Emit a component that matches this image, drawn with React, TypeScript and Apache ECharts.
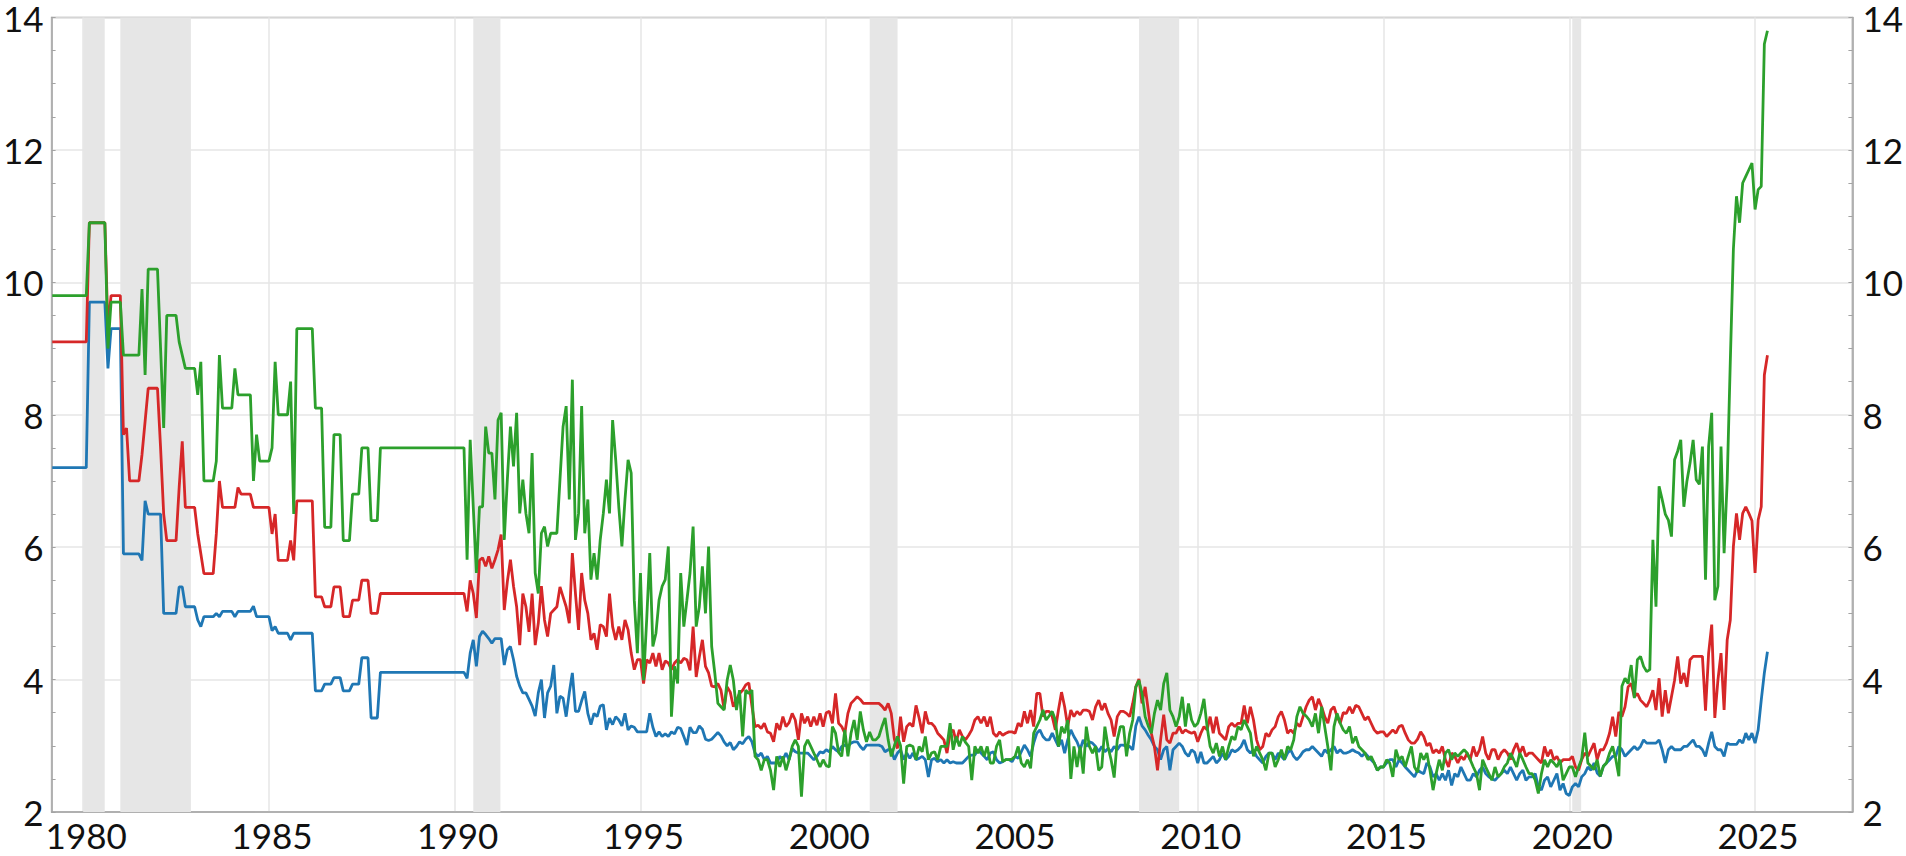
import React, { useEffect, useRef } from "react";
import * as echarts from "echarts";

// Monthly observations; the first value in each list is March 1979.
const FIRST_YEAR = 1979;
const FIRST_MONTH = 3;

// blue line
const seriesBlue = [
  7.2, 7.2, 7.2, 7.2, 7.2, 7.2, 7.2, 7.2, 7.2, 7.2, // 1979 Mar-Dec
  7.2, 7.2, 9.7, 9.7, 9.7, 9.7, 9.7, 9.7, 8.7, 9.3, 9.3, 9.3, // 1980
  9.3, 5.9, 5.9, 5.9, 5.9, 5.9, 5.9, 5.8, 6.7, 6.5, 6.5, 6.5, // 1981
  6.5, 6.5, 5.0, 5.0, 5.0, 5.0, 5.0, 5.4, 5.4, 5.1, 5.1, 5.1, // 1982
  5.1, 4.9, 4.8, 4.95, 4.95, 4.95, 4.95, 5.0, 4.95, 5.03, 5.03, 5.03, // 1983
  5.03, 4.95, 5.03, 5.03, 5.03, 5.03, 5.03, 5.11, 4.95, 4.95, 4.95, 4.95, // 1984
  4.95, 4.74, 4.8, 4.7, 4.7, 4.7, 4.7, 4.6, 4.7, 4.7, 4.7, 4.7, // 1985
  4.7, 4.7, 4.7, 3.83, 3.83, 3.83, 3.93, 3.93, 3.93, 4.03, 4.03, 4.03, // 1986
  3.83, 3.83, 3.83, 3.93, 3.93, 3.93, 4.33, 4.33, 4.33, 3.42, 3.42, 3.42, // 1987
  4.11, 4.11, 4.11, 4.11, 4.11, 4.11, 4.11, 4.11, 4.11, 4.11, 4.11, 4.11, // 1988
  4.11, 4.11, 4.11, 4.11, 4.11, 4.11, 4.11, 4.11, 4.11, 4.11, 4.11, 4.11, // 1989
  4.11, 4.11, 4.11, 4.11, 4.02, 4.4, 4.6, 4.2, 4.65, 4.73, 4.68, 4.62, // 1990
  4.55, 4.62, 4.62, 4.62, 4.22, 4.45, 4.5, 4.3, 4.05, 3.9, 3.8, 3.8, // 1991
  3.7, 3.6, 3.45, 3.8, 4.0, 3.42, 3.8, 3.9, 4.22, 3.49, 3.75, 3.72, // 1992
  3.44, 3.8, 4.1, 3.52, 3.52, 3.68, 3.82, 3.49, 3.32, 3.49, 3.44, 3.6, // 1993
  3.62, 3.24, 3.42, 3.32, 3.44, 3.39, 3.3, 3.49, 3.24, 3.3, 3.28, 3.21, // 1994
  3.21, 3.21, 3.21, 3.49, 3.28, 3.14, 3.21, 3.14, 3.18, 3.14, 3.21, 3.18, // 1995
  3.28, 3.26, 3.14, 3.01, 3.28, 3.2, 3.2, 3.3, 3.25, 3.1, 3.08, 3.1, // 1996
  3.15, 3.2, 3.15, 3.06, 3.0, 3.05, 2.94, 2.99, 3.06, 3.03, 3.1, 3.14, // 1997
  3.06, 2.89, 2.84, 2.89, 2.79, 2.84, 2.74, 2.74, 2.74, 2.84, 2.79, 2.89, // 1998
  2.79, 2.96, 2.91, 2.89, 2.89, 2.89, 2.89, 2.84, 2.79, 2.84, 2.91, 2.89, // 1999
  2.94, 2.91, 2.99, 2.94, 2.91, 2.99, 3.01, 2.99, 3.04, 3.06, 3.06, 2.99, // 2000
  2.94, 3.01, 3.01, 3.01, 3.01, 3.01, 2.99, 2.91, 2.94, 2.94, 2.79, 2.89, // 2001
  2.94, 2.79, 2.89, 2.81, 2.89, 2.79, 2.81, 2.84, 2.79, 2.53, 2.79, 2.81, // 2002
  2.76, 2.79, 2.74, 2.79, 2.74, 2.76, 2.74, 2.74, 2.74, 2.79, 2.84, 2.86, // 2003
  2.86, 2.94, 2.89, 2.84, 2.79, 2.89, 2.91, 2.79, 2.74, 2.76, 2.79, 2.79, // 2004
  2.76, 2.84, 2.81, 2.91, 3.01, 2.94, 2.84, 3.04, 3.19, 3.24, 3.14, 3.09, // 2005
  3.09, 3.19, 3.09, 2.99, 3.09, 2.89, 3.09, 3.24, 3.14, 3.06, 2.94, 3.09, // 2006
  2.99, 3.06, 3.04, 2.99, 2.91, 2.99, 2.91, 2.96, 2.91, 2.99, 2.94, 3.01, // 2007
  3.01, 2.99, 2.99, 2.94, 3.3, 3.44, 3.3, 3.24, 3.16, 3.09, 2.99, 2.94, // 2008
  2.79, 2.94, 2.99, 2.63, 2.94, 2.99, 3.04, 2.99, 2.89, 2.84, 2.94, 2.9, // 2009
  2.74, 2.91, 2.74, 2.74, 2.79, 2.84, 2.74, 2.79, 2.89, 2.79, 2.84, 2.94, // 2010
  2.91, 2.94, 2.99, 3.09, 2.94, 2.89, 2.94, 2.84, 2.79, 2.74, 2.84, 2.89, // 2011
  2.89, 2.79, 2.89, 2.84, 2.79, 2.89, 2.94, 2.84, 2.79, 2.84, 2.91, 2.94, // 2012
  2.94, 2.99, 2.94, 2.89, 2.84, 2.94, 2.89, 2.94, 2.99, 2.89, 2.94, 2.89, // 2013
  2.89, 2.91, 2.94, 2.91, 2.89, 2.84, 2.89, 2.84, 2.79, 2.74, 2.63, 2.68, // 2014
  2.68, 2.74, 2.79, 2.79, 2.68, 2.79, 2.74, 2.68, 2.63, 2.58, 2.53, 2.63, // 2015
  2.6, 2.58, 2.74, 2.68, 2.53, 2.58, 2.48, 2.58, 2.48, 2.63, 2.4, 2.58, // 2016
  2.53, 2.68, 2.58, 2.48, 2.48, 2.58, 2.53, 2.63, 2.68, 2.58, 2.53, 2.5, // 2017
  2.48, 2.53, 2.58, 2.63, 2.58, 2.68, 2.58, 2.48, 2.58, 2.63, 2.48, 2.53, // 2018
  2.53, 2.58, 2.38, 2.33, 2.48, 2.53, 2.38, 2.48, 2.58, 2.33, 2.43, 2.28, // 2019
  2.25, 2.38, 2.43, 2.38, 2.53, 2.58, 2.68, 2.63, 2.74, 2.59, 2.54, 2.69, // 2020
  2.74, 2.79, 2.84, 2.84, 2.99, 2.94, 2.84, 2.89, 2.94, 2.99, 2.94, 2.99, // 2021
  3.09, 3.04, 3.04, 3.04, 3.04, 3.09, 2.94, 2.74, 2.94, 2.99, 2.94, 2.94, // 2022
  2.94, 2.99, 2.99, 3.04, 3.09, 2.99, 2.99, 2.94, 2.84, 3.04, 3.21, 2.99, // 2023
  2.94, 2.94, 2.84, 3.04, 3.02, 3.02, 3.02, 3.09, 3.04, 3.19, 3.09, 3.19, // 2024
  3.04, 3.24, 3.69, 4.1, 4.42, // 2025 Jan-May
];

// red line
const seriesRed = [
  9.1, 9.1, 9.1, 9.1, 9.1, 9.1, 9.1, 9.1, 9.1, 9.1, // 1979 Mar-Dec
  9.1, 9.1, 10.9, 10.9, 10.9, 10.9, 10.9, 10.9, 9.3, 9.8, 9.8, 9.8, // 1980
  9.8, 7.7, 7.8, 7.0, 7.0, 7.0, 7.0, 7.4, 7.9, 8.4, 8.4, 8.4, // 1981
  8.4, 7.5, 6.5, 6.1, 6.1, 6.1, 6.1, 6.9, 7.6, 6.6, 6.6, 6.6, // 1982
  6.6, 6.2, 5.9, 5.6, 5.6, 5.6, 5.6, 6.2, 7.0, 6.6, 6.6, 6.6, // 1983
  6.6, 6.6, 6.9, 6.8, 6.8, 6.8, 6.8, 6.6, 6.6, 6.6, 6.6, 6.6, // 1984
  6.6, 6.2, 6.5, 5.8, 5.8, 5.8, 5.8, 6.1, 5.8, 6.7, 6.7, 6.7, // 1985
  6.7, 6.7, 6.7, 5.25, 5.25, 5.25, 5.1, 5.1, 5.1, 5.4, 5.4, 5.4, // 1986
  4.95, 4.95, 4.95, 5.2, 5.2, 5.2, 5.5, 5.5, 5.5, 5.0, 5.0, 5.0, // 1987
  5.3, 5.3, 5.3, 5.3, 5.3, 5.3, 5.3, 5.3, 5.3, 5.3, 5.3, 5.3, // 1988
  5.3, 5.3, 5.3, 5.3, 5.3, 5.3, 5.3, 5.3, 5.3, 5.3, 5.3, 5.3, // 1989
  5.3, 5.3, 5.3, 5.3, 5.03, 5.5, 5.3, 4.93, 5.8, 5.84, 5.71, 5.86, // 1990
  5.68, 5.81, 5.96, 6.19, 5.05, 5.48, 5.81, 5.41, 5.1, 4.52, 5.3, 5.1, // 1991
  4.72, 5.3, 4.52, 4.85, 5.41, 4.9, 4.65, 5.0, 5.05, 5.1, 5.4, 5.25, // 1992
  5.1, 4.85, 5.91, 5.3, 4.75, 5.61, 5.2, 5.0, 4.6, 4.7, 4.45, 4.83, // 1993
  4.8, 4.65, 5.3, 4.8, 4.6, 4.8, 4.6, 4.9, 4.75, 4.4, 4.15, 4.3, // 1994
  4.3, 3.94, 4.3, 4.25, 4.4, 4.2, 4.4, 4.15, 4.28, 4.25, 4.15, 4.25, // 1995
  4.3, 4.25, 4.32, 4.3, 4.14, 4.8, 4.04, 4.34, 4.6, 4.2, 4.1, 3.9, // 1996
  3.89, 3.94, 3.84, 3.56, 3.89, 3.81, 3.59, 3.69, 3.79, 3.84, 3.92, 3.95, // 1997
  3.6, 3.29, 3.31, 3.26, 3.34, 3.21, 3.19, 3.06, 3.34, 3.24, 3.44, 3.29, // 1998
  3.35, 3.49, 3.39, 3.09, 3.49, 3.34, 3.44, 3.29, 3.44, 3.31, 3.49, 3.29, // 1999
  3.5, 3.52, 3.34, 3.79, 3.34, 3.29, 3.19, 3.49, 3.64, 3.69, 3.74, 3.7, // 2000
  3.64, 3.64, 3.64, 3.64, 3.64, 3.64, 3.6, 3.54, 3.64, 3.49, 3.1, 2.96, // 2001
  3.44, 3.06, 3.29, 3.34, 3.29, 3.61, 3.42, 3.19, 3.52, 3.34, 3.34, 3.29, // 2002
  3.19, 3.14, 3.09, 2.89, 3.19, 3.24, 3.06, 3.24, 3.14, 3.09, 3.16, 3.24, // 2003
  3.39, 3.44, 3.34, 3.44, 3.29, 3.44, 3.19, 3.14, 3.21, 3.16, 3.19, 3.21, // 2004
  3.21, 3.19, 3.34, 3.29, 3.52, 3.34, 3.54, 3.29, 3.79, 3.79, 3.44, 3.52, // 2005
  3.52, 3.44, 3.24, 3.54, 3.81, 3.59, 3.29, 3.54, 3.44, 3.52, 3.47, 3.54, // 2006
  3.54, 3.52, 3.39, 3.59, 3.69, 3.54, 3.64, 3.49, 3.39, 3.14, 3.44, 3.52, // 2007
  3.52, 3.49, 3.44, 3.64, 3.89, 4.01, 3.64, 3.89, 3.54, 3.19, 2.99, 2.63, // 2008
  3.09, 3.47, 3.09, 3.04, 3.19, 3.19, 3.29, 3.19, 3.24, 3.21, 3.19, 3.21, // 2009
  3.06, 3.19, 3.29, 3.24, 3.44, 3.19, 3.44, 3.19, 3.14, 3.09, 3.29, 3.34, // 2010
  3.29, 3.34, 3.34, 3.61, 3.34, 3.59, 3.39, 3.09, 2.94, 2.99, 3.19, 3.14, // 2011
  3.24, 3.29, 3.44, 3.52, 3.39, 3.19, 3.24, 3.19, 3.34, 3.29, 3.44, 3.59, // 2012
  3.69, 3.74, 3.54, 3.71, 3.59, 3.44, 3.34, 3.54, 3.59, 3.44, 3.34, 3.5, // 2013
  3.49, 3.59, 3.49, 3.61, 3.59, 3.49, 3.39, 3.44, 3.34, 3.24, 3.19, 3.21, // 2014
  3.21, 3.14, 3.19, 3.24, 3.19, 3.29, 3.31, 3.19, 3.09, 3.04, 3.04, 3.1, // 2015
  3.21, 3.14, 3.0, 3.04, 2.89, 2.94, 2.89, 2.99, 2.79, 2.68, 2.89, 2.84, // 2016
  2.74, 2.84, 2.79, 2.89, 2.79, 2.99, 2.84, 2.94, 3.14, 2.89, 2.79, 2.94, // 2017
  2.94, 2.79, 2.89, 2.94, 2.89, 2.79, 2.94, 3.04, 2.89, 2.99, 2.84, 2.89, // 2018
  2.89, 2.84, 2.79, 2.74, 2.99, 2.84, 2.94, 2.79, 2.84, 2.74, 2.79, 2.79, // 2019
  2.79, 2.84, 2.68, 2.63, 2.79, 2.89, 2.84, 2.94, 3.04, 2.79, 2.94, 2.94, // 2020
  3.04, 3.19, 3.44, 3.14, 3.51, 3.44, 3.59, 3.89, 3.94, 3.74, 3.79, 3.69, // 2021
  3.64, 3.59, 3.69, 3.84, 3.54, 4.02, 3.44, 3.84, 3.49, 3.74, 3.99, 4.35, // 2022
  3.94, 4.1, 3.89, 4.3, 4.35, 4.35, 4.35, 4.35, 3.53, 4.4, 4.83, 3.42, // 2023
  3.99, 4.4, 3.54, 4.6, 4.9, 6.01, 6.51, 6.11, 6.51, 6.61, 6.51, 6.4, // 2024
  5.61, 6.41, 6.61, 8.6, 8.9, // 2025 Jan-May
];

// green line
const seriesGreen = [
  9.8, 9.8, 9.8, 9.8, 9.8, 9.8, 9.8, 9.8, 9.8, 9.8, // 1979 Mar-Dec
  9.8, 9.8, 10.9, 10.9, 10.9, 10.9, 10.9, 10.9, 9.0, 9.7, 9.7, 9.7, // 1980
  9.7, 8.9, 8.9, 8.9, 8.9, 8.9, 8.9, 9.9, 8.6, 10.2, 10.2, 10.2, // 1981
  10.2, 9.0, 7.8, 9.5, 9.5, 9.5, 9.5, 9.1, 8.9, 8.7, 8.7, 8.7, // 1982
  8.7, 8.3, 8.8, 7.0, 7.0, 7.0, 7.0, 7.3, 8.9, 8.1, 8.1, 8.1, // 1983
  8.1, 8.7, 8.3, 8.3, 8.3, 8.3, 8.3, 7.0, 7.7, 7.3, 7.3, 7.3, // 1984
  7.3, 7.5, 8.8, 8.0, 8.0, 8.0, 8.0, 8.5, 6.5, 9.3, 9.3, 9.3, // 1985
  9.3, 9.3, 9.3, 8.1, 8.1, 8.1, 6.3, 6.3, 6.3, 7.7, 7.7, 7.7, // 1986
  6.1, 6.1, 6.1, 6.8, 6.8, 6.8, 7.5, 7.5, 7.5, 6.4, 6.4, 6.4, // 1987
  7.5, 7.5, 7.5, 7.5, 7.5, 7.5, 7.5, 7.5, 7.5, 7.5, 7.5, 7.5, // 1988
  7.5, 7.5, 7.5, 7.5, 7.5, 7.5, 7.5, 7.5, 7.5, 7.5, 7.5, 7.5, // 1989
  7.5, 7.5, 7.5, 7.5, 5.81, 7.62, 6.6, 5.61, 6.61, 6.61, 7.82, 7.42, // 1990
  7.42, 6.72, 7.92, 8.03, 6.11, 7.02, 7.82, 7.22, 8.03, 6.51, 7.02, 6.51, // 1991
  6.21, 7.42, 5.61, 5.3, 6.21, 6.31, 6.01, 6.21, 6.21, 6.21, 7.02, 7.82, // 1992
  8.13, 6.72, 8.53, 6.11, 6.51, 8.13, 6.21, 6.72, 5.51, 5.91, 5.51, 6.11, // 1993
  6.51, 7.02, 6.51, 7.92, 7.32, 6.61, 6.01, 6.72, 7.32, 7.12, 5.2, 4.4, // 1994
  5.61, 3.99, 4.9, 5.91, 4.5, 4.7, 5.2, 5.41, 5.51, 6.01, 3.44, 4.2, // 1995
  3.94, 5.61, 4.8, 5.2, 5.61, 6.31, 4.8, 5.1, 5.71, 5.0, 6.01, 4.5, // 1996
  4.1, 3.64, 3.59, 3.54, 3.99, 4.22, 3.99, 3.54, 3.84, 3.14, 3.84, 3.79, // 1997
  3.84, 2.84, 2.79, 2.63, 2.79, 2.79, 2.63, 2.33, 2.84, 2.68, 2.84, 2.63, // 1998
  2.79, 2.99, 3.09, 2.99, 2.23, 2.99, 3.09, 2.99, 2.89, 2.79, 2.68, 2.79, // 1999
  2.7, 2.68, 3.29, 3.19, 2.9, 2.84, 3.24, 2.84, 3.19, 3.39, 3.09, 3.52, // 2000
  3.24, 3.06, 3.21, 3.09, 3.09, 3.14, 3.29, 3.42, 3.09, 2.84, 3.0, 3.14, // 2001
  3.0, 2.43, 2.99, 3.01, 2.99, 2.79, 2.99, 2.91, 3.14, 2.79, 2.89, 2.91, // 2002
  2.79, 2.99, 2.99, 2.99, 3.34, 2.94, 3.14, 2.99, 3.14, 3.05, 2.99, 2.48, // 2003
  2.99, 2.89, 2.99, 2.84, 2.99, 2.74, 2.74, 2.99, 3.09, 2.76, 2.79, 2.79, // 2004
  2.8, 2.84, 2.99, 2.74, 2.68, 2.79, 2.66, 3.19, 3.29, 3.39, 3.54, 3.39, // 2005
  3.45, 3.52, 3.39, 2.99, 3.29, 3.19, 3.39, 2.5, 2.99, 2.68, 2.99, 2.58, // 2006
  3.29, 2.99, 2.89, 2.99, 2.63, 2.68, 3.29, 2.99, 2.79, 2.52, 3.09, 3.29, // 2007
  3.29, 2.84, 3.19, 3.39, 3.89, 3.99, 3.79, 3.44, 3.3, 3.19, 3.49, 3.69, // 2008
  3.54, 3.94, 4.1, 3.54, 3.44, 3.29, 3.44, 3.74, 3.29, 3.64, 3.39, 3.29, // 2009
  3.34, 3.49, 3.71, 3.29, 2.99, 2.89, 3.04, 2.84, 2.99, 2.79, 2.99, 3.14, // 2010
  3.09, 3.29, 3.24, 3.39, 3.29, 3.19, 2.84, 2.99, 2.89, 2.79, 2.63, 2.89, // 2011
  2.89, 2.68, 2.79, 2.94, 2.79, 2.99, 2.94, 3.09, 3.44, 3.59, 3.49, 3.45, // 2012
  3.39, 3.29, 3.49, 3.19, 3.59, 3.29, 2.99, 2.63, 3.29, 3.49, 3.34, 3.24, // 2013
  3.19, 3.29, 3.04, 3.14, 2.99, 2.94, 2.89, 2.79, 2.84, 2.74, 2.63, 2.68, // 2014
  2.68, 2.79, 2.74, 2.53, 2.94, 2.79, 2.84, 2.68, 2.84, 2.99, 2.68, 2.6, // 2015
  2.89, 2.79, 2.89, 2.63, 2.33, 2.58, 2.79, 2.63, 2.89, 2.94, 2.79, 2.89, // 2016
  2.84, 2.89, 2.94, 2.89, 2.79, 2.68, 2.58, 2.33, 2.79, 2.68, 2.58, 2.48, // 2017
  2.68, 2.53, 2.58, 2.68, 2.74, 2.89, 2.79, 2.68, 2.89, 2.79, 2.68, 2.58, // 2018
  2.58, 2.48, 2.28, 2.58, 2.79, 2.68, 2.79, 2.74, 2.68, 2.79, 2.48, 2.58, // 2019
  2.68, 2.68, 2.53, 2.68, 2.8, 3.2, 2.74, 2.69, 2.64, 2.79, 2.54, 2.69, // 2020
  2.74, 2.89, 2.99, 2.8, 2.54, 3.9, 4.02, 3.94, 4.22, 3.72, 4.3, 4.35, // 2021
  4.2, 4.12, 4.15, 6.11, 5.1, 6.92, 6.72, 6.5, 6.41, 6.16, 7.32, 7.45, // 2022
  7.62, 6.61, 7.0, 7.27, 7.62, 7.02, 6.95, 7.52, 5.51, 7.52, 8.03, 5.2, // 2023
  5.41, 7.52, 5.91, 7.0, 8.8, 10.5, 11.3, 10.9, 11.5, 11.6, 11.7, 11.8, // 2024
  11.1, 11.4, 11.45, 13.6, 13.8, // 2025 Jan-May
];

// shaded periods, in decimal years
const shadedStarts = [1980.0, 1981.0, 1990.5, 2001.17, 2008.42, 2020.08];
const shadedEnds = [1980.58, 1982.9, 1991.23, 2001.92, 2009.5, 2020.32];

const X_MIN = 1979.15;
const X_MAX = 2027.62;
const X_STEP = 5;
const Y_MIN = 2;
const Y_MAX = 14;
const Y_STEP = 2;

const BLUE = "#1f77b4";
const RED = "#d62728";
const GREEN = "#2ca02c";
const FRAME = "#a3a3a3";
const GRIDLINE = "#e6e6e6";
const SHADE = "#e6e6e6";
const LABEL_FONT = "Lato";

const toPairs = (values: number[]) =>
  values.map((v, i) => [FIRST_YEAR + (FIRST_MONTH - 1 + i) / 12, v]);

export default function App() {
  const ref = useRef<HTMLDivElement | null>(null);

  useEffect(() => {
    if (!ref.current) return;
    const chart = echarts.init(ref.current, undefined, { renderer: "svg" });

    const labelStyle = {
      fontFamily: LABEL_FONT,
      fontSize: 35,
      color: "#111111",
    };
    const frameLine = { color: FRAME, width: 1.5 };

    const yAxisBase = {
      type: "value" as const,
      min: Y_MIN,
      max: Y_MAX,
      interval: Y_STEP,
      axisLine: { show: true, lineStyle: frameLine },
      axisTick: { show: true, inside: true, length: 4, lineStyle: { color: FRAME, width: 1 } },
      minorTick: { show: true, splitNumber: 4, length: 4, lineStyle: { color: FRAME, width: 1 } },
    };

    const lineSeries = (name: string, values: number[], color: string, z: number) => ({
      name,
      type: "line" as const,
      data: toPairs(values),
      symbol: "none",
      showSymbol: false,
      silent: true,
      z,
      lineStyle: { color, width: 2.8 },
      itemStyle: { color },
    });

    chart.setOption({
      animation: false,
      backgroundColor: "#ffffff",
      grid: {
        left: 50,
        right: 52,
        top: 17,
        bottom: 44,
        show: true,
        borderColor: FRAME,
        borderWidth: 1.5,
      },
      xAxis: {
        type: "value",
        min: X_MIN,
        max: X_MAX,
        splitNumber: 10,
        minInterval: X_STEP,
        maxInterval: X_STEP,
        axisLine: { show: true, lineStyle: frameLine },
        axisTick: { show: false },
        axisLabel: {
          ...labelStyle,
          margin: 5,
          padding: [0, 0, 0, 6],
          showMinLabel: false,
          showMaxLabel: false,
          formatter: (v: number) =>
            Math.abs(v / X_STEP - Math.round(v / X_STEP)) < 1e-6 ? String(Math.round(v)) : "",
        },
        splitLine: { show: true, lineStyle: { color: GRIDLINE, width: 1.5 } },
      },
      yAxis: [
        {
          ...yAxisBase,
          position: "left",
          axisLabel: { ...labelStyle, margin: 8 },
          splitLine: { show: true, lineStyle: { color: GRIDLINE, width: 1.5 } },
        },
        {
          ...yAxisBase,
          position: "right",
          axisLabel: { ...labelStyle, margin: 10 },
          splitLine: { show: false },
        },
      ],
      series: [
        {
          name: "shade",
          type: "line",
          data: toPairs(seriesBlue),
          symbol: "none",
          silent: true,
          z: 1,
          lineStyle: { opacity: 0, width: 0 },
          markArea: {
            silent: true,
            itemStyle: { color: SHADE },
            data: shadedStarts.map((s, i) => [{ xAxis: s }, { xAxis: shadedEnds[i] }]),
          },
        },
        lineSeries("blue", seriesBlue, BLUE, 2),
        lineSeries("red", seriesRed, RED, 3),
        lineSeries("green", seriesGreen, GREEN, 4),
      ],
    });

    return () => {
      chart.dispose();
    };
  }, []);

  return (
    <div
      ref={ref}
      style={{
        position: "fixed",
        left: 0,
        top: 0,
        width: 1906,
        height: 856,
        background: "#ffffff",
      }}
    />
  );
}
